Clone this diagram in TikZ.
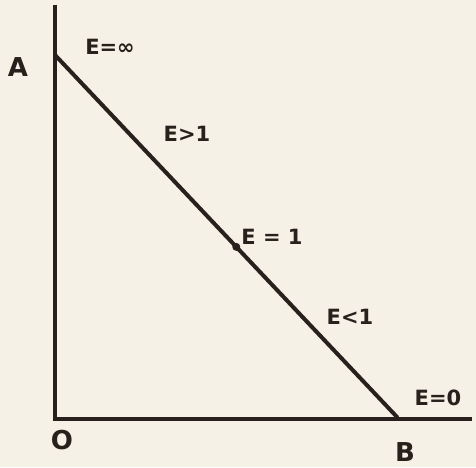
\documentclass[tikz,border=0pt]{standalone}
\usepackage{fontspec}
\setmainfont{DejaVu Sans}
\usepackage{xcolor}
\usepackage{tikz}
\usetikzlibrary{positioning,calc}

\definecolor{ink}{RGB}{40,32,28}
\definecolor{paper}{RGB}{246,241,230}

\tikzset{
    axisline/.style={ink, line width=3.5pt},
    curveline/.style={ink, line width=4pt, line cap=round},
    elabel/.style={ink, font=\fontsize{21}{21}\selectfont\bfseries, inner sep=1pt},
    ptlabel/.style={ink, font=\fontsize{26}{26}\selectfont\bfseries, inner sep=1pt}
}

\begin{document}
\begin{tikzpicture}[x=1pt,y=1pt]
    \fill[paper] (0,0) rectangle (476,467);
    \useasboundingbox (0,0) rectangle (476,467);

    % axes and the demand line
    \coordinate (top) at (55,462);
    \coordinate (O) at (55,48);
    \coordinate (right) at (472,48);
    \coordinate (A) at (55,412);
    \coordinate (B) at (397,50);
    \coordinate (M) at ($(A)!0.53!(B)$);

    \draw[axisline] (top) -- (O) -- (right);
    \draw[curveline] (A) -- (B);
    \fill[ink] (M) circle (4pt);

    % labels
    \node[ptlabel] (lA) at (18,400) {A};
    \node[ptlabel] (lO) at (62,27) {O};
    \node[ptlabel] (lB) at (405,15) {B};

    \node[elabel] (einf) at (110,420) {E=∞};
    \node[elabel] (egt) at (187,333) {E>1};
    \node[elabel] (eone) at (272,230) {E = 1};
    \node[elabel] (elt) at (350,150) {E<1};
    \node[elabel] (ezero) at (438,69) {E=0};
\end{tikzpicture}
\end{document}
